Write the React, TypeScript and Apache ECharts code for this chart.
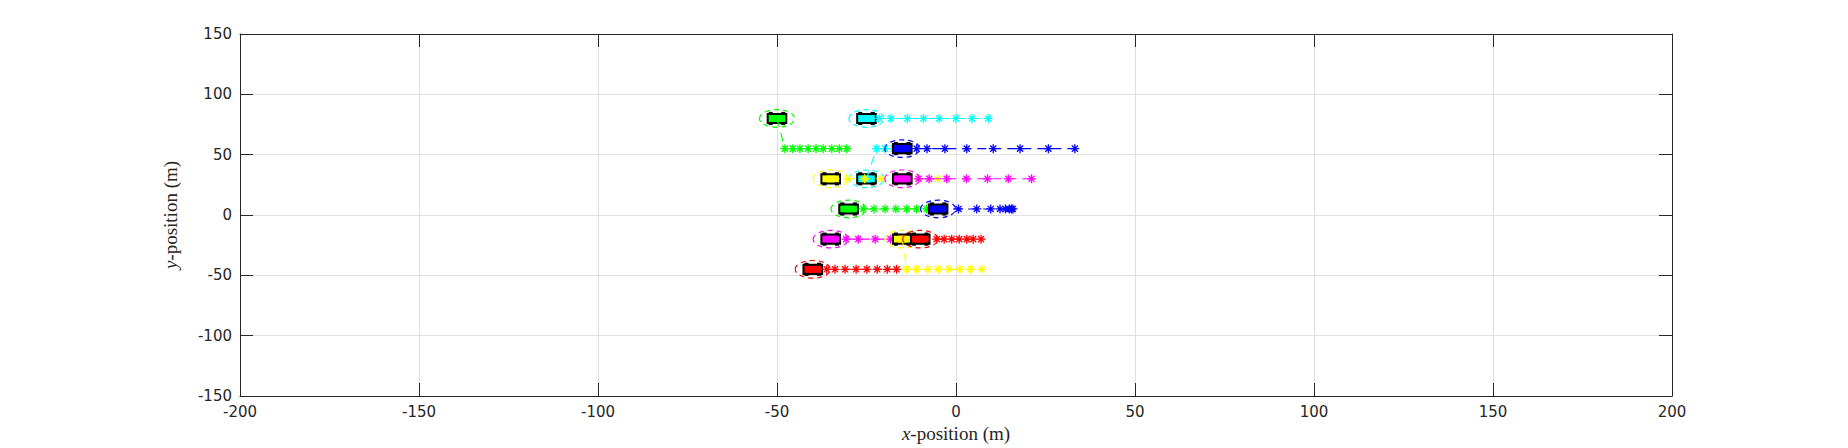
import React, { useEffect, useRef } from "react";
import * as echarts from "echarts";

// ---- axis ticks ----
const X_MIN = -200;
const X_MAX = 200;
const Y_MIN = -150;
const Y_MAX = 150;
const TICK_STEP = 50;

// ---- vehicles (draw order) ----
const vehicleNames = ["greenA", "cyanA", "cyanB", "yellowA", "magentaA", "blueA", "greenB", "blueB", "magentaB", "yellowB", "redA", "redB"];
const vehicleColors = ["#00ff00", "#00ffff", "#00ffff", "#ffff00", "#ff00ff", "#0000ff", "#00ff00", "#0000ff", "#ff00ff", "#ffff00", "#ff0000", "#ff0000"];
const vehicleX = [-50, -25, -25, -35, -15, -15, -30, -5, -35, -15, -10, -40];
const vehicleY = [80, 80, 30, 30, 30, 55, 5, 5, -20, -20, -20, -45];

// ---- predicted trajectories ----
const greenAX = [-47.8, -45.6, -43.6, -41.3, -39.1, -37.1, -34.7, -32.6, -30.5];
const greenAY = [55, 55, 55, 55, 55, 55, 55, 55, 55];
const cyanAX = [-21.5, -18.2, -13.6, -9.1, -4.7, 0, 4.5, 9.0];
const cyanAY = [80, 80, 80, 80, 80, 80, 80, 80];
const cyanBX = [-22.2, -19.8, -17.4, -15.0];
const cyanBY = [55, 55, 55, 55];
const yellowAX = [-30.3, -25.5, -20.8, -15.7, -10.4, -5.1];
const yellowAY = [30, 30, 30, 30, 30, 30];
const magentaAX = [-10.5, -7.5, -2.6, 2.9, 8.8, 14.6, 21.1];
const magentaAY = [30, 30, 30, 30, 30, 30, 30];
const blueAX = [-11.0, -8.1, -3.1, 3.0, 10.4, 17.9, 25.8, 33.2];
const blueAY = [55, 55, 55, 55, 55, 55, 55, 55];
const greenBX = [-25.9, -22.9, -19.8, -16.8, -13.8, -11.0, -8.2];
const greenBY = [5, 5, 5, 5, 5, 5, 5];
const blueBX = [0.7, 5.8, 9.7, 12.3, 13.8, 14.9, 15.5, 15.9];
const blueBY = [5, 5, 5, 5, 5, 5, 5, 5];
const magentaBX = [-30.7, -27.3, -22.6, -18.3, -14.0];
const magentaBY = [-20, -20, -20, -20, -20];
const yellowBX = [-13.8, -11.0, -7.9, -5.0, -1.9, 1.1, 4.1, 7.2];
const yellowBY = [-45, -45, -45, -45, -45, -45, -45, -45];
const redAX = [-5.4, -3.3, -1.2, 0.9, 3.0, 4.8, 7.0];
const redAY = [-20, -20, -20, -20, -20, -20, -20];
const redBX = [-36.1, -33.8, -31.0, -27.9, -24.9, -22.0, -19.2, -16.6];
const redBY = [-45, -45, -45, -45, -45, -45, -45, -45];

const trajX = [greenAX, cyanAX, cyanBX, yellowAX, magentaAX, blueAX, greenBX, blueBX, magentaBX, yellowBX, redAX, redBX];
const trajY = [greenAY, cyanAY, cyanBY, yellowAY, magentaAY, blueAY, greenBY, blueBY, magentaBY, yellowBY, redAY, redBY];

// ---- geometry in data units ----
const VEH_LEN = 5.2;
const VEH_WID = 7.6;
const ELL_RX = 4.9;
const ELL_RY = 7.3;

const AXIS_COLOR = "#262626";
const GRID_COLOR = "#dfdfdf";
const ASTERISK = "path://M5,0L5,10M0,5L10,5M1.6,1.6L8.4,8.4M1.6,8.4L8.4,1.6";

function buildOption() {
  const series: any[] = [];
  let z = 2;
  vehicleNames.forEach((name, i) => {
    const color = vehicleColors[i];
    series.push({
      type: "custom",
      name: name + "-vehicle",
      z: z++,
      silent: true,
      data: [[vehicleX[i], vehicleY[i]]],
      renderItem: (params: any, api: any) => {
        const c = api.coord([api.value(0), api.value(1)]);
        const s = api.size([VEH_LEN, VEH_WID]);
        const e = api.size([ELL_RX * 2, ELL_RY * 2]);
        const w = s[0];
        const h = s[1];
        const ww = Math.max(3, w * 0.22);
        const wheels = [
          [c[0] - w / 2 + 1, c[1] - h / 2 - 2],
          [c[0] + w / 2 - 1 - ww, c[1] - h / 2 - 2],
          [c[0] - w / 2 + 1, c[1] + h / 2 - 1],
          [c[0] + w / 2 - 1 - ww, c[1] + h / 2 - 1],
        ].map((p) => ({
          type: "rect",
          shape: { x: p[0], y: p[1], width: ww, height: 3 },
          style: { fill: "#000" },
        }));
        return {
          type: "group",
          children: [
            {
              type: "ellipse",
              shape: { cx: c[0], cy: c[1], rx: e[0] / 2, ry: e[1] / 2 },
              style: { fill: "none", stroke: color, lineWidth: 1.2, lineDash: [5, 4] },
            },
            {
              type: "rect",
              shape: { x: c[0] - w / 2, y: c[1] - h / 2, width: w, height: h },
              style: { fill: color, stroke: "#000", lineWidth: 2 },
            },
            ...wheels,
          ],
        };
      },
    });
    const pts: any[] = [{ value: [vehicleX[i], vehicleY[i]], symbol: "none" }];
    trajX[i].forEach((x, k) => pts.push([x, trajY[i][k]]));
    series.push({
      type: "line",
      name: name + "-traj",
      z: z++,
      silent: true,
      data: pts,
      symbol: ASTERISK,
      symbolSize: 9,
      symbolKeepAspect: true,
      showAllSymbol: true,
      lineStyle: { color, width: 1.1, type: [9, 6] },
      itemStyle: { color, borderColor: color, borderWidth: 1.3 },
    });
  });

  const tickLabel = { color: AXIS_COLOR, fontFamily: "DejaVu Sans", fontSize: 15 };
  const nameStyle = {
    color: AXIS_COLOR,
    fontFamily: "Liberation Serif",
    fontSize: 19,
    rich: { i: { fontStyle: "italic", fontFamily: "Liberation Serif", fontSize: 19, color: AXIS_COLOR } },
  };

  return {
    animation: false,
    backgroundColor: "#ffffff",
    grid: { left: 240, right: 176, top: 34, bottom: 50, containLabel: false },
    xAxis: [
      {
        type: "value",
        min: X_MIN,
        max: X_MAX,
        interval: TICK_STEP,
        position: "bottom",
        name: "{i|x}-position (m)",
        nameLocation: "middle",
        nameGap: 28,
        nameTextStyle: nameStyle,
        axisLine: { show: true, onZero: false, lineStyle: { color: AXIS_COLOR, width: 1 } },
        axisTick: { show: true, inside: true, length: 13, lineStyle: { color: AXIS_COLOR } },
        axisLabel: { ...tickLabel, margin: 8 },
        splitLine: { show: true, lineStyle: { color: GRID_COLOR, width: 1 } },
      },
      {
        type: "value",
        min: X_MIN,
        max: X_MAX,
        interval: TICK_STEP,
        position: "top",
        axisLine: { show: true, onZero: false, lineStyle: { color: AXIS_COLOR, width: 1 } },
        axisTick: { show: true, inside: true, length: 13, lineStyle: { color: AXIS_COLOR } },
        axisLabel: { show: false },
        splitLine: { show: false },
      },
    ],
    yAxis: [
      {
        type: "value",
        min: Y_MIN,
        max: Y_MAX,
        interval: TICK_STEP,
        position: "left",
        name: "{i|y}-position (m)",
        nameLocation: "middle",
        nameGap: 60,
        nameRotate: 90,
        nameTextStyle: nameStyle,
        axisLine: { show: true, onZero: false, lineStyle: { color: AXIS_COLOR, width: 1 } },
        axisTick: { show: true, inside: true, length: 13, lineStyle: { color: AXIS_COLOR } },
        axisLabel: { ...tickLabel, margin: 8 },
        splitLine: { show: true, lineStyle: { color: GRID_COLOR, width: 1 } },
      },
      {
        type: "value",
        min: Y_MIN,
        max: Y_MAX,
        interval: TICK_STEP,
        position: "right",
        axisLine: { show: true, onZero: false, lineStyle: { color: AXIS_COLOR, width: 1 } },
        axisTick: { show: true, inside: true, length: 13, lineStyle: { color: AXIS_COLOR } },
        axisLabel: { show: false },
        splitLine: { show: false },
      },
    ],
    series,
  };
}

export default function App() {
  const ref = useRef<HTMLDivElement>(null);
  useEffect(() => {
    document.body.style.margin = "0";
    if (!ref.current) return;
    const chart = echarts.init(ref.current, null, { renderer: "svg" });
    chart.setOption(buildOption() as any);
    return () => chart.dispose();
  }, []);
  return (
    <div
      ref={ref}
      style={{ position: "absolute", left: 0, top: 0, width: 1848, height: 448, background: "#fff" }}
    />
  );
}
